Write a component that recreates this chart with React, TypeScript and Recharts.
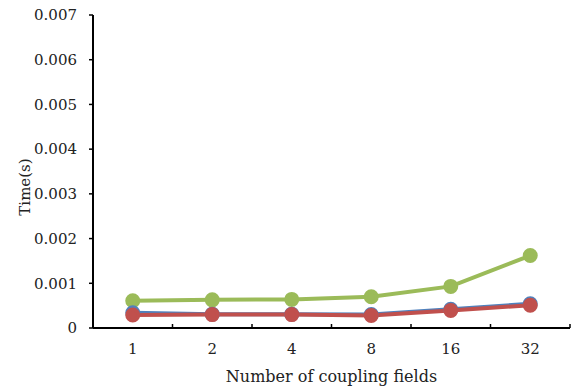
import { LineChart, Line, XAxis, YAxis } from 'recharts'

const fieldCounts = ['1', '2', '4', '8', '16', '32']
const greenTimes = [0.00061, 0.00063, 0.00064, 0.0007, 0.00093, 0.00162]
const blueTimes = [0.00034, 0.00031, 0.00031, 0.0003, 0.00042, 0.00054]
const redTimes = [0.00029, 0.0003, 0.0003, 0.00028, 0.00039, 0.00051]
const yTicks = [0, 0.001, 0.002, 0.003, 0.004, 0.005, 0.006, 0.007]

const data = fieldCounts.map((f, i) => ({
  fields: f,
  green: greenTimes[i],
  blue: blueTimes[i],
  red: redTimes[i],
}))

const W = 571
const H = 392
const LEFT = 93
const RIGHT = 1
const BAND = (W - LEFT - RIGHT) / fieldCounts.length
const FONT = "'DejaVu Serif'"
const TICK_MARGIN = 15
const textStyle = { fontFamily: FONT }

function XTick(props: any) {
  const { x, y, payload } = props
  const axisY = y - TICK_MARGIN
  return (
    <g>
      <text x={x} y={y} dy="0.71em" textAnchor="middle" style={textStyle} fontSize={15} fill="#222">
        {payload.value}
      </text>
      <line x1={x + BAND / 2} x2={x + BAND / 2} y1={axisY} y2={axisY - 4} stroke="#000" strokeWidth={1.5} />
    </g>
  )
}

export default function App() {
  return (
    <div style={{ position: 'absolute', left: 0, top: 0, width: W, height: H, background: '#fff', fontFamily: FONT }}>
      <LineChart width={W} height={H} data={data} margin={{ top: 15, right: RIGHT, left: 0, bottom: 14 }} style={textStyle}>
        <XAxis
          dataKey="fields"
          height={50}
          padding={{ left: BAND / 2, right: BAND / 2 }}
          tickLine={false}
          tickSize={0}
          tickMargin={TICK_MARGIN}
          tick={<XTick />}
          axisLine={{ stroke: '#000', strokeWidth: 2 }}
          label={{
            content: ({ viewBox }: any) => (
              <text
                x={viewBox.x + viewBox.width / 2}
                y={viewBox.y + 48}
                textAnchor="middle"
                dominantBaseline="central"
                style={textStyle}
                fontSize={16}
                fill="#222"
              >
                Number of coupling fields
              </text>
            ),
          }}
        />
        <YAxis
          width={LEFT}
          domain={[0, 0.007]}
          ticks={yTicks}
          interval={0}
          tickSize={4}
          tickMargin={12}
          tickFormatter={(v: number) => (v === 0 ? '0' : v.toFixed(3))}
          tick={{ fontSize: 15, fill: '#222', style: textStyle }}
          tickLine={{ stroke: '#000', strokeWidth: 1.5 }}
          axisLine={{ stroke: '#000', strokeWidth: 2 }}
          label={{
            content: () => (
              <text
                x={25}
                y={187}
                transform="rotate(-90, 25, 187)"
                textAnchor="middle"
                dominantBaseline="central"
                style={textStyle}
                fontSize={15}
                fill="#222"
              >
                Time(s)
              </text>
            ),
          }}
        />
        <Line dataKey="green" stroke="#9bbb59" strokeWidth={4} dot={{ r: 5.5, fill: '#9bbb59', stroke: '#9bbb59' }} isAnimationActive={false} />
        <Line dataKey="blue" stroke="#4f81bd" strokeWidth={4} dot={{ r: 5.5, fill: '#4f81bd', stroke: '#4f81bd' }} isAnimationActive={false} />
        <Line dataKey="red" stroke="#c0504d" strokeWidth={4} dot={{ r: 5.5, fill: '#c0504d', stroke: '#c0504d' }} isAnimationActive={false} />
      </LineChart>
    </div>
  )
}
